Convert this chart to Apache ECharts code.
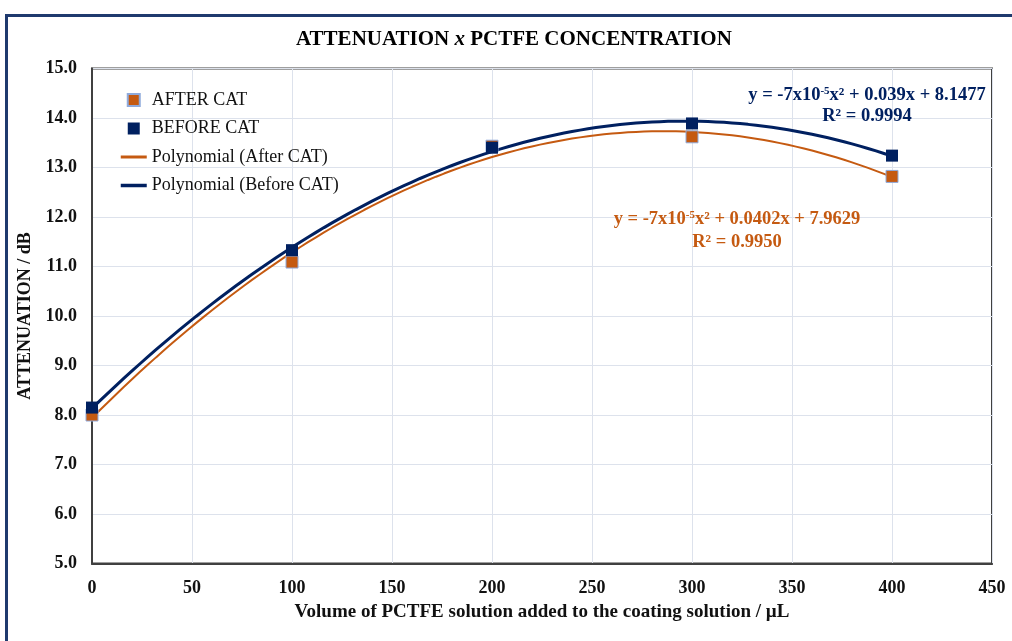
<!DOCTYPE html>
<html>
<head>
<meta charset="utf-8">
<script src="https://cdn.jsdelivr.net/npm/echarts@6/dist/echarts.min.js"></script>
<style>
  html, body { margin: 0; padding: 0; background: #ffffff; }
  #frame {
    position: absolute; left: 5px; top: 14px; width: 1007px; height: 627px;
    border-top: 3px solid #1f3a6e; border-left: 3px solid #1f3a6e;
    box-sizing: border-box;
  }
  #chart { position: absolute; left: 0; top: 0; width: 1012px; height: 641px; }
</style>
</head>
<body>
<div id="frame"></div>
<div id="chart"></div>
<script>
// Volume of PCTFE solution (µL)
const volumes = [0, 100, 200, 300, 400];
// Attenuation (dB) after and before CAT
const afterCat = [8.00, 11.09, 13.43, 13.62, 12.82];
const beforeCat = [8.15, 11.33, 13.40, 13.89, 13.24];
// Axis ticks
const xTicks = { min: 0, max: 450, step: 50 };
const yTicks = { min: 5, max: 15, step: 1 };

const SERIF = '"Liberation Serif", "Times New Roman", serif';
const NAVY = '#002060';
const ORANGE = '#c55a11';

// Second-order least-squares trendline through the measured points
function quadFit(xs, ys) {
  let s0 = xs.length, s1 = 0, s2 = 0, s3 = 0, s4 = 0, t0 = 0, t1 = 0, t2 = 0;
  for (let i = 0; i < xs.length; i++) {
    const x = xs[i], y = ys[i];
    s1 += x; s2 += x * x; s3 += x * x * x; s4 += x * x * x * x;
    t0 += y; t1 += x * y; t2 += x * x * y;
  }
  const M = [[s4, s3, s2, t2], [s3, s2, s1, t1], [s2, s1, s0, t0]];
  for (let c = 0; c < 3; c++) {
    for (let r = c + 1; r < 3; r++) {
      const f = M[r][c] / M[c][c];
      for (let k = c; k < 4; k++) M[r][k] -= f * M[c][k];
    }
  }
  const sol = [0, 0, 0];
  for (let r = 2; r >= 0; r--) {
    let v = M[r][3];
    for (let k = r + 1; k < 3; k++) v -= M[r][k] * sol[k];
    sol[r] = v / M[r][r];
  }
  return sol; // a, b, c
}
function trendPoints(xs, ys) {
  const [a, b, c] = quadFit(xs, ys);
  const pts = [];
  const x0 = Math.min(...xs), x1 = Math.max(...xs);
  for (let x = x0; x <= x1 + 1e-9; x += 4) pts.push([x, a * x * x + b * x + c]);
  return pts;
}
const pair = (xs, ys) => xs.map((x, i) => [x, ys[i]]);

const chart = echarts.init(document.getElementById('chart'), null, { renderer: 'canvas' });

const eqRich = (color) => ({
  m: { fontFamily: SERIF, fontWeight: 'bold', fontSize: 18.5, fill: color, color: color },
  s: { fontFamily: SERIF, fontWeight: 'bold', fontSize: 11, fill: color, color: color, verticalAlign: 'top' }
});

const eqText = (x, y, text, color) => ({
  type: 'text', x: x, y: y, silent: true, z: 20,
  style: { text: text, align: 'center', verticalAlign: 'middle', rich: eqRich(color) }
});

chart.setOption({
  backgroundColor: 'transparent',
  animation: false,
  title: {
    text: '{b|ATTENUATION }{i|x}{b| PCTFE CONCENTRATION}',
    left: 291,
    top: 24,
    textStyle: {
      rich: {
        b: { fontFamily: SERIF, fontWeight: 'bold', fontSize: 21, color: '#000' },
        i: { fontFamily: SERIF, fontWeight: 'bold', fontStyle: 'italic', fontSize: 21, color: '#000' }
      }
    }
  },
  grid: {
    left: 92, right: 20, top: 68.5, bottom: 77.5, containLabel: false,
    show: true, borderColor: '#404040', borderWidth: 2, backgroundColor: 'transparent'
  },
  legend: {
    orient: 'vertical',
    left: 114,
    top: 86,
    itemWidth: 26,
    itemHeight: 12,
    itemGap: 10.5,
    textStyle: { fontFamily: SERIF, fontSize: 18, color: '#111' },
    data: [
      { name: 'AFTER CAT', icon: 'path://M0 0H10V10H0Z' },
      { name: 'BEFORE CAT', icon: 'path://M0 0H10V10H0Z' },
      { name: 'Polynomial (After CAT)', itemStyle: { opacity: 0 }, lineStyle: { width: 3 } },
      { name: 'Polynomial (Before CAT)', itemStyle: { opacity: 0 }, lineStyle: { width: 3.5 } }
    ]
  },
  xAxis: {
    type: 'value',
    min: xTicks.min, max: xTicks.max, interval: xTicks.step,
    name: 'Volume of PCTFE solution added to the coating solution / µL',
    nameLocation: 'middle',
    nameGap: 34,
    nameTextStyle: { fontFamily: SERIF, fontWeight: 'bold', fontSize: 19, color: '#111' },
    axisLine: { show: true, lineStyle: { color: '#404040', width: 2 } },
    axisTick: { show: false },
    axisLabel: { fontFamily: SERIF, fontWeight: 'bold', fontSize: 18, color: '#111', margin: 16 },
    splitLine: { show: true, lineStyle: { color: '#dde2ec', width: 1 } }
  },
  yAxis: {
    type: 'value',
    min: yTicks.min, max: yTicks.max, interval: yTicks.step,
    name: 'ATTENUATION / dB',
    nameLocation: 'middle',
    nameGap: 58,
    nameTextStyle: { fontFamily: SERIF, fontWeight: 'bold', fontSize: 18, color: '#111' },
    axisLine: { show: true, lineStyle: { color: '#404040', width: 2 } },
    axisTick: { show: false },
    axisLabel: {
      fontFamily: SERIF, fontWeight: 'bold', fontSize: 18, color: '#111', margin: 15,
      formatter: (v) => v.toFixed(1)
    },
    splitLine: { show: true, lineStyle: { color: '#dde2ec', width: 1 } }
  },
  // Trendline equations and coefficients of determination
  graphic: [
    eqText(867, 95, '{m|y = -7x10}{s|-5}{m|x² + 0.039x + 8.1477}', NAVY),
    eqText(867, 116, '{m|R² = 0.9994}', NAVY),
    eqText(737, 219, '{m|y = -7x10}{s|-5}{m|x² + 0.0402x + 7.9629}', ORANGE),
    eqText(737, 242, '{m|R² = 0.9950}', ORANGE)
  ],
  series: [
    {
      name: 'Polynomial (After CAT)',
      type: 'line',
      data: trendPoints(volumes, afterCat),
      symbol: 'none',
      lineStyle: { color: ORANGE, width: 2 },
      itemStyle: { color: ORANGE },
      z: 2
    },
    {
      name: 'Polynomial (Before CAT)',
      type: 'line',
      data: trendPoints(volumes, beforeCat),
      symbol: 'none',
      lineStyle: { color: NAVY, width: 3 },
      itemStyle: { color: NAVY },
      z: 2
    },
    {
      name: 'AFTER CAT',
      type: 'scatter',
      data: pair(volumes, afterCat),
      symbol: 'rect',
      symbolSize: 12,
      itemStyle: { color: ORANGE, borderColor: '#8faadc', borderWidth: 1, opacity: 1 },
      z: 3
    },
    {
      name: 'BEFORE CAT',
      type: 'scatter',
      data: pair(volumes, beforeCat),
      symbol: 'rect',
      symbolSize: 12,
      itemStyle: { color: NAVY, opacity: 1 },
      z: 3
    }
  ]
});
</script>
</body>
</html>
